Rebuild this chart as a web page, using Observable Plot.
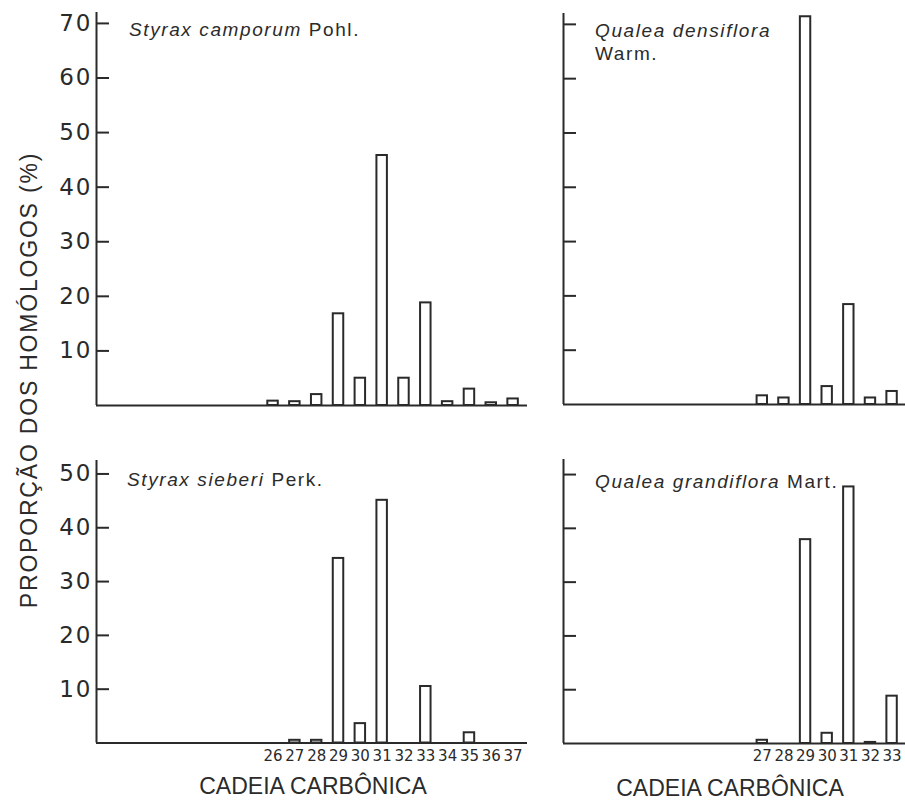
<!DOCTYPE html>
<html><head><meta charset="utf-8">
<script src="https://cdn.jsdelivr.net/npm/d3@7"></script>
<script src="https://cdn.jsdelivr.net/npm/@observablehq/plot@0.6"></script>
<style>
html,body{margin:0;padding:0;background:#fff;overflow:hidden}
#fig{position:relative;width:905px;height:800px;background:#fff}
.panel{position:absolute}
.panel svg{overflow:visible;background:transparent !important}
.ylab g[aria-label="y-axis tick label"] text{letter-spacing:2px}
.ttl{position:absolute;font-family:"Liberation Sans",Arial,sans-serif;font-size:19px;letter-spacing:1.6px;color:#2b2b2b;line-height:23px;white-space:nowrap}
.axt{position:absolute;font-family:"Liberation Sans",Arial,sans-serif;font-size:23px;color:#2b2b2b;white-space:nowrap;line-height:20px}
</style></head><body><div id="fig"></div>
<script>
// ---- data ----
const chainsStyraxCamporum = [26, 27, 28, 29, 30, 31, 32, 33, 34, 35, 36, 37];
const valuesStyraxCamporum = [0.8, 0.7, 2.0, 16.8, 5.0, 45.8, 5.0, 18.8, 0.7, 3.0, 0.5, 1.2];

const chainsQualeaDensiflora = [27, 28, 29, 30, 31, 32, 33];
const valuesQualeaDensiflora = [1.6, 1.2, 71.4, 3.3, 18.4, 1.2, 2.4];

const chainsStyraxSieberi = [27, 28, 29, 30, 31, 33, 35];
const valuesStyraxSieberi = [0.5, 0.5, 34.3, 3.6, 45.1, 10.5, 1.9];

const chainsQualeaGrandiflora = [27, 29, 30, 31, 32, 33];
const valuesQualeaGrandiflora = [0.6, 37.9, 1.9, 47.7, 0.2, 8.8];

const yTicksTop = [10, 20, 30, 40, 50, 60, 70];
const yTicksBottom = [10, 20, 30, 40, 50];
const xLabelsLeft = [26, 27, 28, 29, 30, 31, 32, 33, 34, 35, 36, 37];
const xLabelsRight = [27, 28, 29, 30, 31, 32, 33];

const yTitle = "PROPORÇÃO DOS HOMÓLOGOS (%)";
const xTitle = "CADEIA CARBÔNICA";

// ---- drawing ----
const INK = "#2a2a2a";
const HALF = 0.24;
const fig = document.getElementById("fig");

function panel(o) {
  const data = o.chains.map((c, i) => ({c, v: o.values[i]}));
  const marks = [
    Plot.ruleX([o.xDomain[0]], {stroke: INK, strokeWidth: 2}),
    Plot.ruleY([0], {stroke: INK, strokeWidth: 2}),
    Plot.axisY(o.yTicks, {tickSize: 13, dx: 13, fill: "none", label: null, stroke: INK, strokeWidth: 2}),
    Plot.rectY(data, {x1: d => d.c - HALF, x2: d => d.c + HALF, y1: 0, y2: "v", fill: "white", stroke: INK, strokeWidth: 2})
  ];
  if (o.yLabels) marks.push(Plot.axisY(o.yTicks, {tickSize: 0, tickPadding: 4, label: null, fontSize: 23, fontFamily: "DejaVu Sans", fill: INK}));
  if (o.xLabels) marks.push(Plot.axisX(o.xLabels, {tickSize: 0, tickPadding: 7, label: null, fontSize: 15, fontFamily: "DejaVu Sans", fill: INK}));
  const xOpts = {domain: o.xDomain};
  if (!o.xLabels) xOpts.axis = null;
  const svg = Plot.plot({
    width: o.width, height: o.height,
    marginLeft: o.m[0], marginRight: o.m[1], marginTop: o.m[2], marginBottom: o.m[3],
    x: xOpts,
    y: {domain: o.yDomain},
    className: o.yLabels ? "ylab" : "noylab",
    style: {background: "transparent", color: INK, fontFamily: "DejaVu Sans"},
    marks
  });
  const div = document.createElement("div");
  div.className = "panel";
  div.style.left = o.left + "px";
  div.style.top = o.top + "px";
  div.appendChild(svg);
  fig.appendChild(div);
}

const xLeft = [17.91, 37.66];
const xRight = [17.81, 33.62];

panel({left: 0, top: 0, width: 540, height: 420, m: [96, 13, 12, 15], xDomain: xLeft, yDomain: [0, 72],
  chains: chainsStyraxCamporum, values: valuesStyraxCamporum, yTicks: yTicksTop, yLabels: true});
panel({left: 540, top: 0, width: 365, height: 420, m: [23, 0, 13, 16], xDomain: xRight, yDomain: [0, 72],
  chains: chainsQualeaDensiflora, values: valuesQualeaDensiflora, yTicks: yTicksTop, yLabels: false});
panel({left: 0, top: 420, width: 540, height: 380, m: [96, 13, 40, 57.5], xDomain: xLeft, yDomain: [0, 52.5],
  chains: chainsStyraxSieberi, values: valuesStyraxSieberi, yTicks: yTicksBottom, yLabels: true, xLabels: xLabelsLeft});
panel({left: 540, top: 420, width: 365, height: 380, m: [23, 0, 39, 57], xDomain: xRight, yDomain: [0, 52.8],
  chains: chainsQualeaGrandiflora, values: valuesQualeaGrandiflora, yTicks: yTicksBottom, yLabels: false, xLabels: xLabelsRight});

function addText(cls, html, css) {
  const d = document.createElement("div");
  d.className = cls;
  d.innerHTML = html;
  Object.assign(d.style, css);
  fig.appendChild(d);
}
addText("ttl", "<i>Styrax camporum</i> Pohl.", {left: "129px", top: "18px"});
addText("ttl", "<i>Qualea densiflora</i><br>Warm.", {left: "595px", top: "18.5px"});
addText("ttl", "<i>Styrax sieberi</i> Perk.", {left: "127px", top: "468px"});
addText("ttl", "<i>Qualea grandiflora</i> Mart.", {left: "595px", top: "470px"});

addText("axt", xTitle, {left: "313px", top: "776px", transform: "translateX(-50%)"});
addText("axt", xTitle, {left: "730px", top: "778px", transform: "translateX(-50%)"});
addText("axt", yTitle, {left: "28.5px", top: "380px", transform: "translate(-50%,-50%) rotate(-90deg)", letterSpacing: "1.8px"});
</script>
</body></html>
